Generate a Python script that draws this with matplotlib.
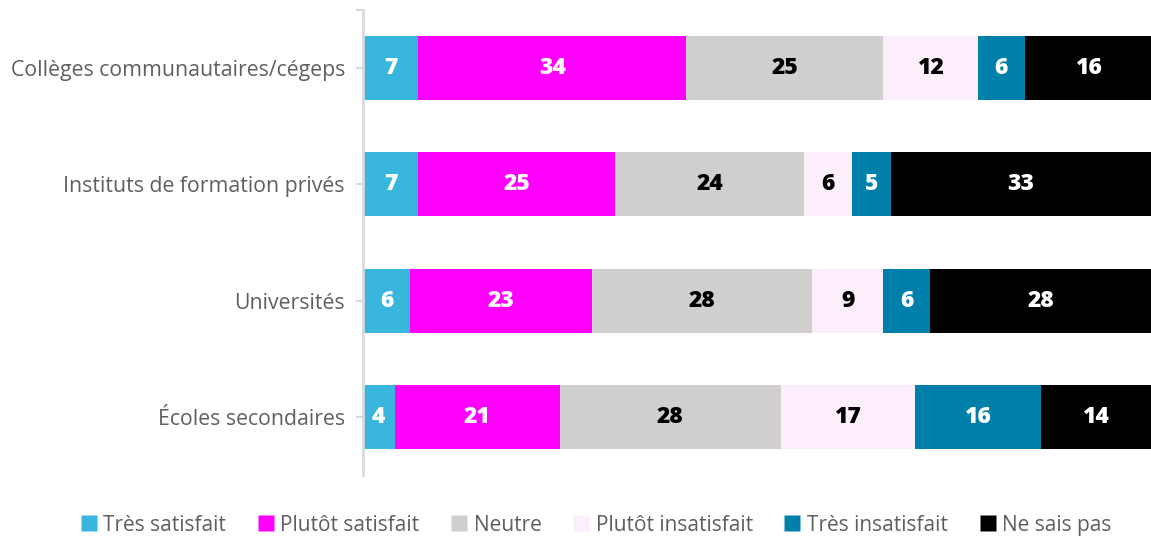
import matplotlib
matplotlib.use('Agg')
import matplotlib.pyplot as plt
import numpy as np
from matplotlib.lines import Line2D

plt.rcParams['font.family'] = ['Open Sans', 'DejaVu Sans']

categories = ['Collèges communautaires/cégeps', 'Instituts de formation privés',
              'Universités', 'Écoles secondaires']
series_names = ['Très satisfait', 'Plutôt satisfait', 'Neutre',
                'Plutôt insatisfait', 'Très insatisfait', 'Ne sais pas']
values = {
    'Très satisfait': [7, 7, 6, 4],
    'Plutôt satisfait': [34, 25, 23, 21],
    'Neutre': [25, 24, 28, 28],
    'Plutôt insatisfait': [12, 6, 9, 17],
    'Très insatisfait': [6, 5, 6, 16],
    'Ne sais pas': [16, 33, 28, 14],
}

colors = ['#38B6DE', '#FF00FF', '#D0CECF', '#FDEEFC', '#007FAA', '#000000']
text_colors = ['white', 'white', 'black', 'black', 'white', 'white']

fig = plt.figure(figsize=(11.51, 5.38), dpi=100)
ax = fig.add_axes([0.3154, 0.1171, 0.6846, 0.8643])

y = np.arange(len(categories))
left = np.zeros(len(categories))
for name, col, tcol in zip(series_names, colors, text_colors):
    vals = np.array(values[name], dtype=float)
    ax.barh(y, vals, left=left, height=0.55, color=col, edgecolor='none')
    for yi, l, v in zip(y, left, vals):
        ax.text(l + v / 2, yi, f'{int(v)}', ha='center', va='center',
                color=tcol, fontsize=16.5, fontweight='heavy')
    left += vals

ax.set_xlim(0, 100)
ax.set_ylim(3.5, -0.5)
ax.set_yticks(y)
ax.set_yticklabels(categories, fontsize=15.3, color='#5F5F5F')
ax.set_yticks([-0.5], minor=True)
ax.tick_params(axis='y', which='both', length=5, width=1.5, color='#D9D9D9', pad=8)
ax.set_xticks([])
for s in ['top', 'right', 'bottom']:
    ax.spines[s].set_visible(False)
ax.spines['left'].set_color('#D9D9D9')
ax.spines['left'].set_linewidth(2)

handles = [Line2D([], [], marker='s', linestyle='none', markersize=11,
                  markerfacecolor=c, markeredgecolor='none') for c in colors]
fig.legend(handles, series_names, loc='center', bbox_to_anchor=(0.516, 0.024),
           ncol=6, frameon=False, fontsize=15, handletextpad=0.1,
           handlelength=1.2, columnspacing=1.3, labelcolor='#5F5F5F')

fig.savefig('out.png', dpi=100)
